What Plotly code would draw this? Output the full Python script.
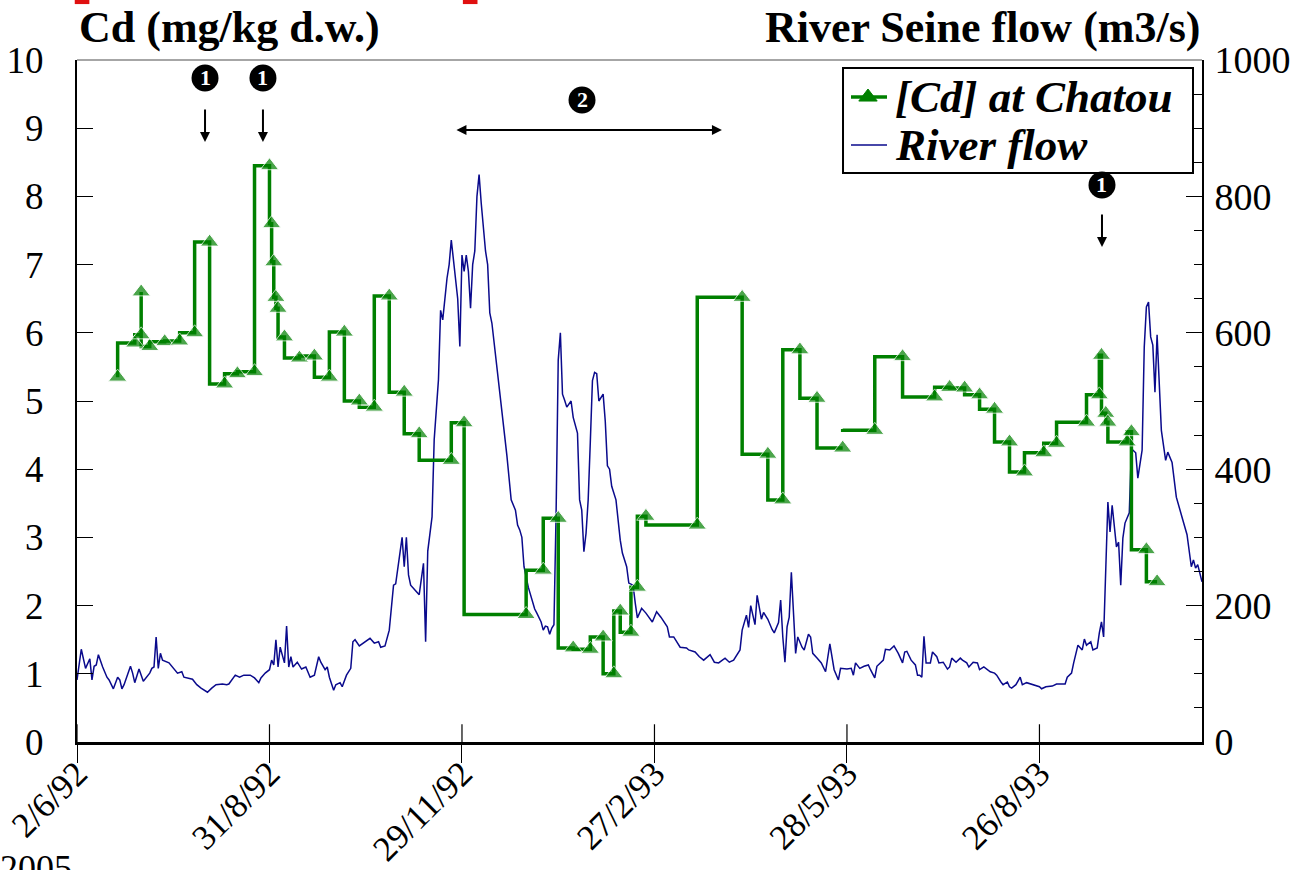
import pandas as pd
import plotly.graph_objects as go

START = pd.Timestamp("1992-06-02")

# Cd concentration in suspended matter at Chatou (days since 2 June 1992)
cd_day = [19, 27, 30, 30, 34, 41, 48, 55, 62, 69, 75, 83, 90, 91, 92, 93, 94, 97,
          104, 111, 118, 125, 132, 139, 146, 153, 160, 175, 181, 210, 218, 225, 232,
          240, 246, 251, 254, 259, 262, 266, 290, 311, 323, 330, 338, 346, 358,
          None, 358, 373, 386, 401, 408, 415, 422, 429, 436, 443, 452, 458, 472,
          478, 479, 481, 482, 491, 493, 500, 505]
cd_value = [5.35, 5.85, 5.97, 6.6, 5.8, 5.87, 5.88, 6.0, 7.33, 5.25, 5.4, 5.43, 8.45,
            7.6, 7.04, 6.52, 6.36, 5.94, 5.63, 5.66, 5.35, 6.01, 5.0, 4.91, 6.54,
            5.13, 4.52, 4.13, 4.68, 1.87, 2.52, 3.28, 1.38, 1.36, 1.54, 1.0, 1.92,
            1.61, 2.27, 3.31, 3.18, 6.52, 4.22, 3.55, 5.75, 5.04, 4.31,
            None, 4.59, 4.57, 5.65, 5.06, 5.2, 5.19, 5.09, 4.88, 4.4, 3.96, 4.24,
            4.38, 4.69, 5.09, 5.67, 4.82, 4.69, 4.4, 4.55, 2.82, 2.35]
# sampled days carry a marker; the restart after the gap does not
cd_marker = [16] * 47 + [0, 0] + [16] * 20

# River Seine daily flow (m3/s)
flow_day = [0, 2, 4, 6, 7, 8, 9, 10, 12, 14, 15, 17, 19, 20, 21, 22, 25, 26, 27, 29,
            31, 34, 35, 36, 37, 38, 39, 40, 43, 45, 47, 49, 50, 54, 56, 58, 61, 63,
            65, 68, 70, 71, 74, 76, 78, 81, 83, 85, 86, 88, 90, 91, 92, 93, 94, 95,
            97, 98, 99, 100, 101, 103, 105, 107, 109, 111, 113, 114, 116, 117, 118,
            120, 121, 123, 124, 126, 128, 129, 130, 132, 135, 137, 139, 141, 142,
            144, 146, 148, 149, 151, 152, 153, 154, 155, 156, 158, 160, 162, 163,
            164, 166, 167, 169, 170, 171, 173, 174, 175, 177, 178, 179, 180, 181,
            182, 183, 184, 185, 186, 187, 188, 189, 191, 192, 193, 194, 196, 197,
            198, 199, 200, 201, 203, 205, 206, 207, 208, 209, 211, 212, 213, 214,
            215, 217, 218, 219, 220, 221, 222, 223, 224, 225, 226, 227, 228, 229,
            231, 232, 234, 235, 236, 237, 238, 239, 240, 241, 242, 243, 244, 246,
            247, 248, 249, 250, 252, 254, 255, 257, 258, 260, 261, 262, 264, 266,
            269, 271, 273, 276, 277, 279, 282, 285, 286, 289, 291, 293, 296, 298,
            300, 303, 305, 307, 310, 311, 313, 314, 315, 317, 318, 320, 321, 323,
            325, 326, 328, 329, 330, 331, 332, 333, 334, 335, 336, 337, 339, 340,
            342, 343, 344, 346, 348, 350, 352, 354, 356, 357, 360, 362, 363, 364,
            366, 368, 370, 371, 373, 374, 377, 378, 380, 382, 384, 386, 387, 388,
            390, 392, 393, 394, 395, 396, 397, 399, 400, 402, 403, 405, 407, 408,
            409, 411, 413, 414, 416, 417, 419, 421, 422, 424, 427, 429, 430, 432,
            433, 435, 436, 437, 439, 441, 442, 444, 446, 448, 450, 451, 453, 456,
            458, 460, 462, 463, 465, 466, 468, 470, 471, 472, 474, 475, 477, 478,
            479, 480, 482, 483, 484, 486, 487, 488, 489, 490, 492, 493, 495, 496,
            498, 499, 500, 501, 502, 503, 504, 505, 506, 507, 509, 510, 512, 513,
            514, 517, 519, 521, 522, 523, 524, 526]
flow_value = [91, 136, 108, 122, 91, 111, 113, 128, 110, 95, 91, 78, 95, 91, 78, 84,
              111, 101, 87, 107, 89, 101, 108, 110, 154, 108, 130, 120, 116, 108, 101,
              103, 95, 92, 84, 79, 73, 79, 84, 85, 84, 85, 98, 95, 98, 98, 94, 87, 94,
              101, 106, 120, 113, 150, 110, 139, 116, 170, 110, 125, 110, 117, 107,
              110, 95, 98, 125, 117, 106, 110, 95, 76, 84, 87, 81, 98, 108, 147, 150,
              141, 147, 152, 145, 147, 139, 141, 164, 230, 232, 274, 300, 257, 300,
              245, 230, 223, 216, 262, 147, 280, 330, 443, 531, 633, 619, 680, 700,
              736, 680, 650, 580, 714, 690, 714, 690, 636, 700, 720, 800, 832, 790,
              720, 700, 629, 614, 560, 531, 501, 470, 447, 420, 355, 340, 318, 311,
              300, 257, 227, 215, 204, 195, 189, 176, 164, 170, 169, 158, 167, 172,
              335, 560, 600, 510, 501, 491, 500, 476, 453, 355, 340, 279, 306, 355,
              440, 530, 542, 540, 500, 510, 470, 405, 400, 375, 355, 296, 277, 257,
              233, 230, 204, 182, 196, 189, 176, 191, 183, 169, 154, 154, 139, 138,
              135, 132, 125, 120, 128, 117, 116, 123, 117, 120, 135, 164, 186, 168,
              200, 172, 215, 180, 190, 180, 165, 160, 175, 208, 154, 117, 169, 183,
              249, 179, 130, 154, 139, 135, 158, 154, 130, 123, 116, 103, 144, 106,
              91, 108, 107, 108, 98, 116, 108, 111, 113, 106, 94, 111, 120, 136, 135,
              141, 130, 116, 132, 133, 120, 113, 98, 98, 95, 155, 116, 116, 132, 125,
              116, 117, 107, 110, 123, 117, 123, 120, 116, 110, 117, 116, 106, 110,
              103, 101, 98, 88, 84, 88, 81, 79, 84, 95, 84, 87, 85, 82, 81, 78, 81,
              82, 85, 85, 85, 95, 101, 116, 142, 135, 151, 142, 147, 135, 138, 160,
              176, 154, 352, 308, 347, 286, 293, 230, 299, 321, 336, 430, 424, 387,
              428, 579, 638, 645, 594, 582, 513, 597, 531, 457, 413, 425, 410, 380,
              359, 326, 304, 257, 267, 255, 260, 235]

tick_day = [0, 90, 180, 270, 360, 450]
tick_text = ["2/6/92", "31/8/92", "29/11/92", "27/2/93", "28/5/93", "26/8/93"]
x_end_day = 526

series_names = ["[Cd] at Chatou", "River flow"]


def to_dates(days):
    return [None if d is None else START + pd.Timedelta(days=d) for d in days]


cd_dates = to_dates(cd_day)
flow_dates = to_dates(flow_day)
tick_dates = to_dates(tick_day)

SERIF = "Liberation Serif"
GREEN = "#008000"
NAVY = "#0a0a8c"

fig = go.Figure()
fig.add_trace(go.Scatter(
    x=cd_dates, y=cd_value, yaxis="y2", name=series_names[0],
    mode="lines+markers", connectgaps=False,
    line=dict(color=GREEN, width=3.5, shape="vh"),
    marker=dict(symbol="triangle-up", size=cd_marker, color=GREEN),
))
fig.add_trace(go.Scatter(
    x=flow_dates, y=flow_value, yaxis="y", name=series_names[1],
    mode="lines", line=dict(color=NAVY, width=1.5),
))

fig.update_layout(
    width=1307, height=870,
    margin=dict(l=77, r=105, t=60, b=128, autoexpand=False),
    paper_bgcolor="white", plot_bgcolor="white",
    font=dict(family=SERIF, size=36, color="black"),
    showlegend=False,
    xaxis=dict(
        type="date", range=[START, START + pd.Timedelta(days=x_end_day)],
        tickmode="array", tickvals=tick_dates, ticktext=tick_text,
        tickangle=-45, ticks="outside", ticklen=18, tickwidth=1.2,
        tickcolor="black", showgrid=False, zeroline=False, automargin=False,
        showline=True, linecolor="black", linewidth=3, mirror=False,
        ticklabelstandoff=-24, tickfont=dict(family=SERIF, size=35),
    ),
    yaxis=dict(
        side="right", range=[0, 1000], tickmode="linear", tick0=0, dtick=200,
        ticks="inside", ticklen=16, tickwidth=1.2, tickcolor="black",
        minor=dict(ticks="inside", ticklen=8, dtick=50, tickcolor="black", tickwidth=1),
        showgrid=False, zeroline=False, showline=True, linecolor="black",
        linewidth=2, automargin=False, ticklabelstandoff=3,
        tickfont=dict(family=SERIF, size=38),
    ),
    yaxis2=dict(
        overlaying="y", side="left", range=[0, 10], tickmode="linear", tick0=0,
        dtick=1, ticks="inside", ticklen=16, tickwidth=1.2, tickcolor="black",
        showgrid=False, zeroline=False, showline=True, linecolor="black",
        linewidth=2, automargin=False, ticklabelstandoff=24,
        tickfont=dict(family=SERIF, size=37),
    ),
)

# upper frame edge and the inner half of the date ticks
shapes = [dict(type="line", xref="paper", yref="paper", x0=0, x1=1, y0=1, y1=1,
               line=dict(color="#888888", width=1.5))]
for d in tick_dates:
    shapes.append(dict(type="line", xref="x", yref="paper", x0=d, x1=d, y0=0,
                       y1=0.026, line=dict(color="black", width=1.2)))
# small red marks along the upper page edge
for x0 in (-0.002, 0.343):
    shapes.append(dict(type="rect", xref="paper", yref="paper", x0=x0, x1=x0 + 0.013,
                       y0=1.082, y1=1.09, line=dict(width=0), fillcolor="#e01010"))

ann = [
    dict(text="<b>Cd (mg/kg d.w.)</b>", x=0.0, y=1.0, xref="paper", yref="paper",
         xanchor="left", yanchor="bottom", yshift=6, showarrow=False,
         font=dict(family=SERIF, size=44)),
    dict(text="<b>River Seine flow (m3/s)</b>", x=1.0, y=1.0, xref="paper",
         yref="paper", xanchor="right", yanchor="bottom", yshift=6, showarrow=False,
         font=dict(family=SERIF, size=44)),
    dict(text="2005", x=-0.07, y=-0.152, xref="paper", yref="paper", xanchor="left",
         yanchor="top", showarrow=False, font=dict(family=SERIF, size=36)),
]

# legend box drawn by hand for a compact two-row layout
lg_x0, lg_x1, lg_y0, lg_y1 = 0.6809, 0.992, 0.8343, 0.9883
row_y = [0.9457, 0.8754]
sym_x0, sym_x1, sym_mid, txt_x = 0.688, 0.72, 0.7031, 0.7253
shapes.append(dict(type="rect", xref="paper", yref="paper", x0=lg_x0, x1=lg_x1,
                   y0=lg_y0, y1=lg_y1, fillcolor="white",
                   line=dict(color="black", width=2)))
shapes.append(dict(type="line", xref="paper", yref="paper", x0=sym_x0, x1=sym_x1,
                   y0=row_y[0], y1=row_y[0], line=dict(color=GREEN, width=3.5)))
shapes.append(dict(type="path", xref="paper", yref="paper", xsizemode="pixel",
                   ysizemode="pixel", xanchor=sym_mid, yanchor=row_y[0],
                   path="M-9.2,-4 L9.2,-4 L0,8 Z", fillcolor=GREEN,
                   line=dict(color=GREEN, width=1)))
shapes.append(dict(type="line", xref="paper", yref="paper", x0=sym_x0, x1=sym_x1,
                   y0=row_y[1], y1=row_y[1], line=dict(color=NAVY, width=1.5)))
for name, ry in zip(series_names, row_y):
    ann.append(dict(text=name, x=txt_x, y=ry, xref="paper", yref="paper",
                    xanchor="left", yanchor="middle", showarrow=False,
                    font=dict(family=SERIF, size=45, style="italic", weight="bold")))

# event markers: black discs with a white number, plus arrows
events = [(0.1138, 0.9736, "1"), (0.1653, 0.9736, "1"), (0.9111, 0.8167, "1"),
          (0.4489, 0.9413, "2")]
for xp, yp, label in events:
    shapes.append(dict(type="circle", xref="paper", yref="paper",
                       xsizemode="pixel", ysizemode="pixel", xanchor=xp, yanchor=yp,
                       x0=-13.5, x1=13.5, y0=-13.5, y1=13.5,
                       fillcolor="black", line=dict(width=0)))
    ann.append(dict(text="<b>" + label + "</b>", x=xp, y=yp, xref="paper",
                    yref="paper", xanchor="center", yanchor="middle",
                    showarrow=False, yshift=1,
                    font=dict(family=SERIF, size=22, color="white")))
fig.update_layout(shapes=shapes)

for xp, yp in [(0.1138, 0.8798), (0.1653, 0.8798), (0.9111, 0.7258)]:
    ann.append(dict(text="", x=xp, y=yp, xref="paper", yref="paper", showarrow=True,
                    ax=0, ay=-34, arrowhead=2, arrowsize=1, arrowwidth=2,
                    arrowcolor="black"))
ann.append(dict(text="", x=0.5733, y=0.8974, xref="paper", yref="paper",
                showarrow=True, ax=-267, ay=0, arrowhead=2, startarrowhead=2,
                arrowside="end+start", arrowsize=1, arrowwidth=2, arrowcolor="black"))
fig.update_layout(annotations=ann)

fig.write_html("out.html")
